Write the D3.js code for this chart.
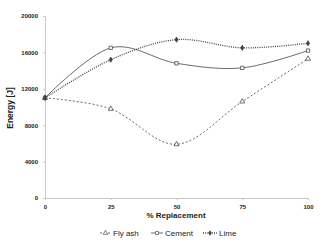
<!DOCTYPE html>
<html>
<head>
<meta charset="utf-8">
<script src="https://cdn.jsdelivr.net/npm/d3@7"></script>
<style>
  body { margin: 0; background: #fff; }
  text { font-family: "Liberation Sans", Arial, sans-serif; }
</style>
</head>
<body>
<div id="chart"></div>
<script>
//// data
var replacement = [0, 25, 50, 75, 100];
var flyAsh = [11000, 9800, 5900, 10600, 15300];
var cement = [11000, 16500, 14800, 14300, 16200];
var lime = [11000, 15200, 17400, 16500, 17000];
var yTicks = [0, 4000, 8000, 12000, 16000, 20000];

var width = 334, height = 243;
var margin = {top: 16, right: 26, bottom: 45, left: 45};

var svg = d3.select("#chart").append("svg")
  .attr("width", width)
  .attr("height", height);

var xScale = d3.scaleLinear()
  .domain([0, 100])
  .range([margin.left, width - margin.right]);

var yScale = d3.scaleLinear()
  .domain([0, 20000])
  .range([height - margin.bottom, margin.top]);

//// axes
var yAxis = svg.append("g")
  .attr("transform", "translate(" + margin.left + ",0)")
  .call(d3.axisLeft(yScale).tickValues(yTicks).tickFormat(d3.format("d"))
    .tickSize(2).tickPadding(5).tickSizeOuter(0));

var xAxis = svg.append("g")
  .attr("transform", "translate(0," + yScale(0) + ")")
  .call(d3.axisBottom(xScale).tickValues(replacement).tickFormat(d3.format("d"))
    .tickSize(2).tickPadding(5).tickSizeOuter(0));

[yAxis, xAxis].forEach(function(a) {
  a.select(".domain").attr("stroke", "#c8c8c8");
  a.selectAll(".tick line").attr("stroke", "#c8c8c8");
  a.selectAll(".tick text")
    .attr("fill", "#222")
    .style("font-size", "6px")
    .style("font-weight", "bold");
});

svg.append("text")
  .attr("transform", "translate(13,108) rotate(-90)")
  .attr("text-anchor", "middle")
  .style("font-size", "8.5px")
  .style("font-weight", "bold")
  .attr("fill", "#222")
  .text("Energy [J]");

svg.append("text")
  .attr("x", 176)
  .attr("y", 218)
  .attr("text-anchor", "middle")
  .style("font-size", "8px")
  .style("font-weight", "bold")
  .attr("fill", "#222")
  .text("% Replacement");

//// series
var series = [
  {name: "Fly ash", values: flyAsh, dash: "2,2", marker: d3.symbolTriangle, fill: "#fff", size: 11},
  {name: "Cement", values: cement, dash: null, marker: d3.symbolSquare, fill: "#fff", size: 11},
  {name: "Lime", values: lime, dash: "1,1.2", marker: d3.symbolDiamond, fill: "#444", size: 8}
];

var line = d3.line()
  .x(function(d) { return xScale(d[0]); })
  .y(function(d) { return yScale(d[1]); })
  .curve(d3.curveCatmullRom.alpha(0));

series.forEach(function(s) {
  var pts = replacement.map(function(r, i) { return [r, s.values[i]]; });
  svg.append("path")
    .datum(pts)
    .attr("d", line)
    .attr("fill", "none")
    .attr("stroke", "#444")
    .attr("stroke-width", s.name === "Lime" ? 1.3 : 0.8)
    .attr("stroke-dasharray", s.dash);

  svg.selectAll(".m-" + s.name.replace(" ", ""))
    .data(pts)
    .enter()
    .append("path")
    .attr("transform", function(d) { return "translate(" + xScale(d[0]) + "," + yScale(d[1]) + ")"; })
    .attr("d", d3.symbol().type(s.marker).size(s.size))
    .attr("fill", s.fill)
    .attr("stroke", "#333")
    .attr("stroke-width", 0.7);
});

//// legend
var legendX = [100, 151, 203];
var legendW = [11, 12, 14];
series.forEach(function(s, i) {
  var g = svg.append("g").attr("transform", "translate(" + legendX[i] + ",233)");
  g.append("line")
    .attr("x1", 0).attr("x2", legendW[i])
    .attr("stroke", "#444")
    .attr("stroke-width", s.name === "Lime" ? 1.3 : 0.8)
    .attr("stroke-dasharray", s.dash);
  g.append("path")
    .attr("transform", "translate(" + (legendW[i] / 2) + ",0)")
    .attr("d", d3.symbol().type(s.marker).size(s.size - 2))
    .attr("fill", s.fill)
    .attr("stroke", "#333")
    .attr("stroke-width", 0.6);
  g.append("text")
    .attr("x", legendW[i] + 2)
    .attr("y", 3)
    .style("font-size", "8px")
    .attr("fill", "#222")
    .text(s.name);
});
</script>
</body>
</html>
